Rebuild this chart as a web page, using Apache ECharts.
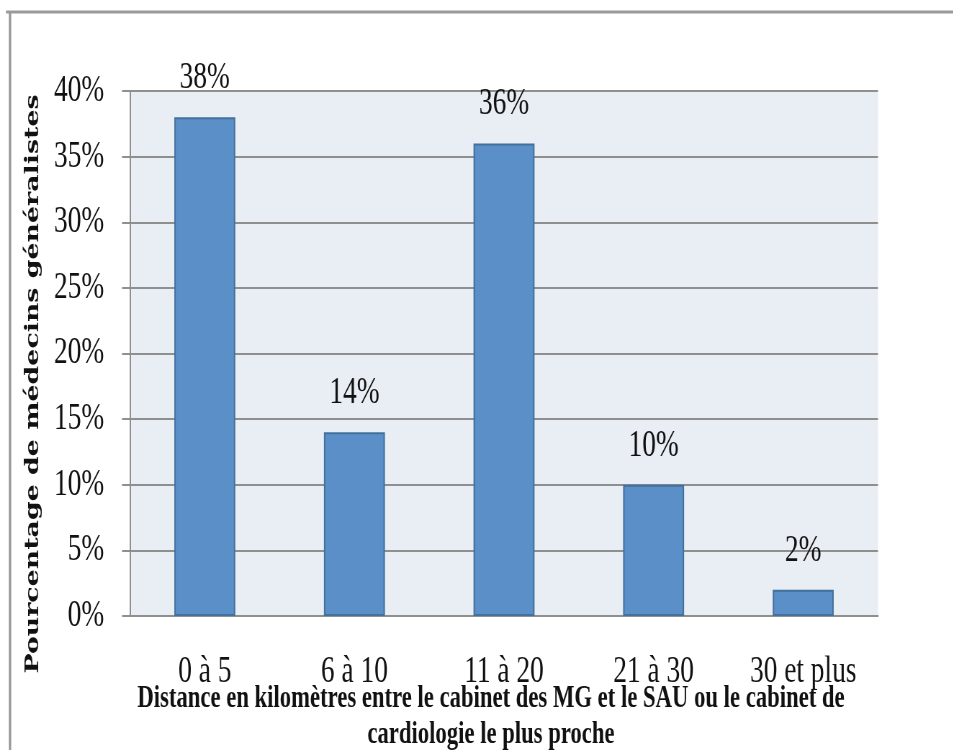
<!DOCTYPE html>
<html><head><meta charset="utf-8">
<script src="https://cdn.jsdelivr.net/npm/echarts@6/dist/echarts.min.js"></script>
<style>
html,body{margin:0;padding:0;background:#fff;overflow:hidden;width:953px;height:750px}
#wrap{width:953px;height:750px;overflow:hidden;position:relative}
#chart{width:1324px;height:750px;transform:scaleX(0.72);transform-origin:0 0}
</style></head><body><div id="wrap"><div id="chart"></div></div>
<script>
const categories = ['0 à 5', '6 à 10', '11 à 20', '21 à 30', '30 et plus'];
const values = [38, 14, 36, 10, 2];
const yMin = 0, yMax = 40, yStep = 5;
const yTitle = 'Pourcentage de médecins généralistes';
const xTitle = 'Distance en kilomètres entre le cabinet des MG et le SAU ou le cabinet de\ncardiologie le plus proche';

const SX = 0.72;
const W = 1324;
const serif = '"Liberation Serif", "DejaVu Serif", serif';
const gridCol = '#8f8f8f';
const chart = echarts.init(document.getElementById('chart'), null, {renderer: 'canvas', width: W, height: 750});
chart.setOption({
  animation: false,
  backgroundColor: '#ffffff',
  grid: {left: 130 / SX, right: W - 878 / SX, top: 91, bottom: 750 - 616, containLabel: false, outerBoundsMode: 'none',
         show: true, backgroundColor: '#e9edf4', borderWidth: 0},
  xAxis: {
    type: 'category', data: categories,
    axisLine: {show: true, lineStyle: {color: gridCol, width: 2}},
    axisTick: {show: false},
    axisLabel: {fontFamily: serif, fontSize: 38, lineHeight: 38, color: '#111', margin: 37, interval: 0}
  },
  yAxis: {
    type: 'value', min: yMin, max: yMax, interval: yStep,
    axisLine: {show: true, lineStyle: {color: gridCol, width: 2}},
    axisTick: {show: true, length: 11, lineStyle: {color: gridCol, width: 2}},
    splitLine: {show: true, lineStyle: {color: gridCol, width: 2}},
    axisLabel: {fontFamily: serif, fontSize: 38, color: '#111', margin: 36, formatter: '{value}%'}
  },
  series: [{
    type: 'bar', data: values, barWidth: 61 / SX,
    itemStyle: {color: '#5a8fc8', borderColor: '#41719c', borderWidth: 2},
    label: {show: true, position: 'top', distance: 20, fontFamily: serif, fontSize: 38, lineHeight: 38, color: '#111', formatter: '{c}%'}
  }],
  graphic: [
    {type: 'line', shape: {x1: 6 / SX, y1: 12, x2: W, y2: 12}, style: {stroke: '#9a9a9a', lineWidth: 3}},
    {type: 'line', shape: {x1: 10 / SX, y1: 12, x2: 10 / SX, y2: 750}, style: {stroke: '#9a9a9a', lineWidth: 3 / SX * 0.8}},
    {type: 'text', x: 33 / SX, y: 384, rotation: Math.PI / 2,
     style: {text: yTitle, fontFamily: '"DejaVu Serif", serif', fontWeight: 'bold', fontSize: 26.8, fill: '#111', align: 'center', verticalAlign: 'middle'}},
    {type: 'text', x: 491 / SX, y: 717,
     style: {text: xTitle, fontFamily: serif, fontWeight: 'bold', fontSize: 31.5, lineHeight: 36, fill: '#111', align: 'center', verticalAlign: 'middle'}}
  ]
});
</script></body></html>
